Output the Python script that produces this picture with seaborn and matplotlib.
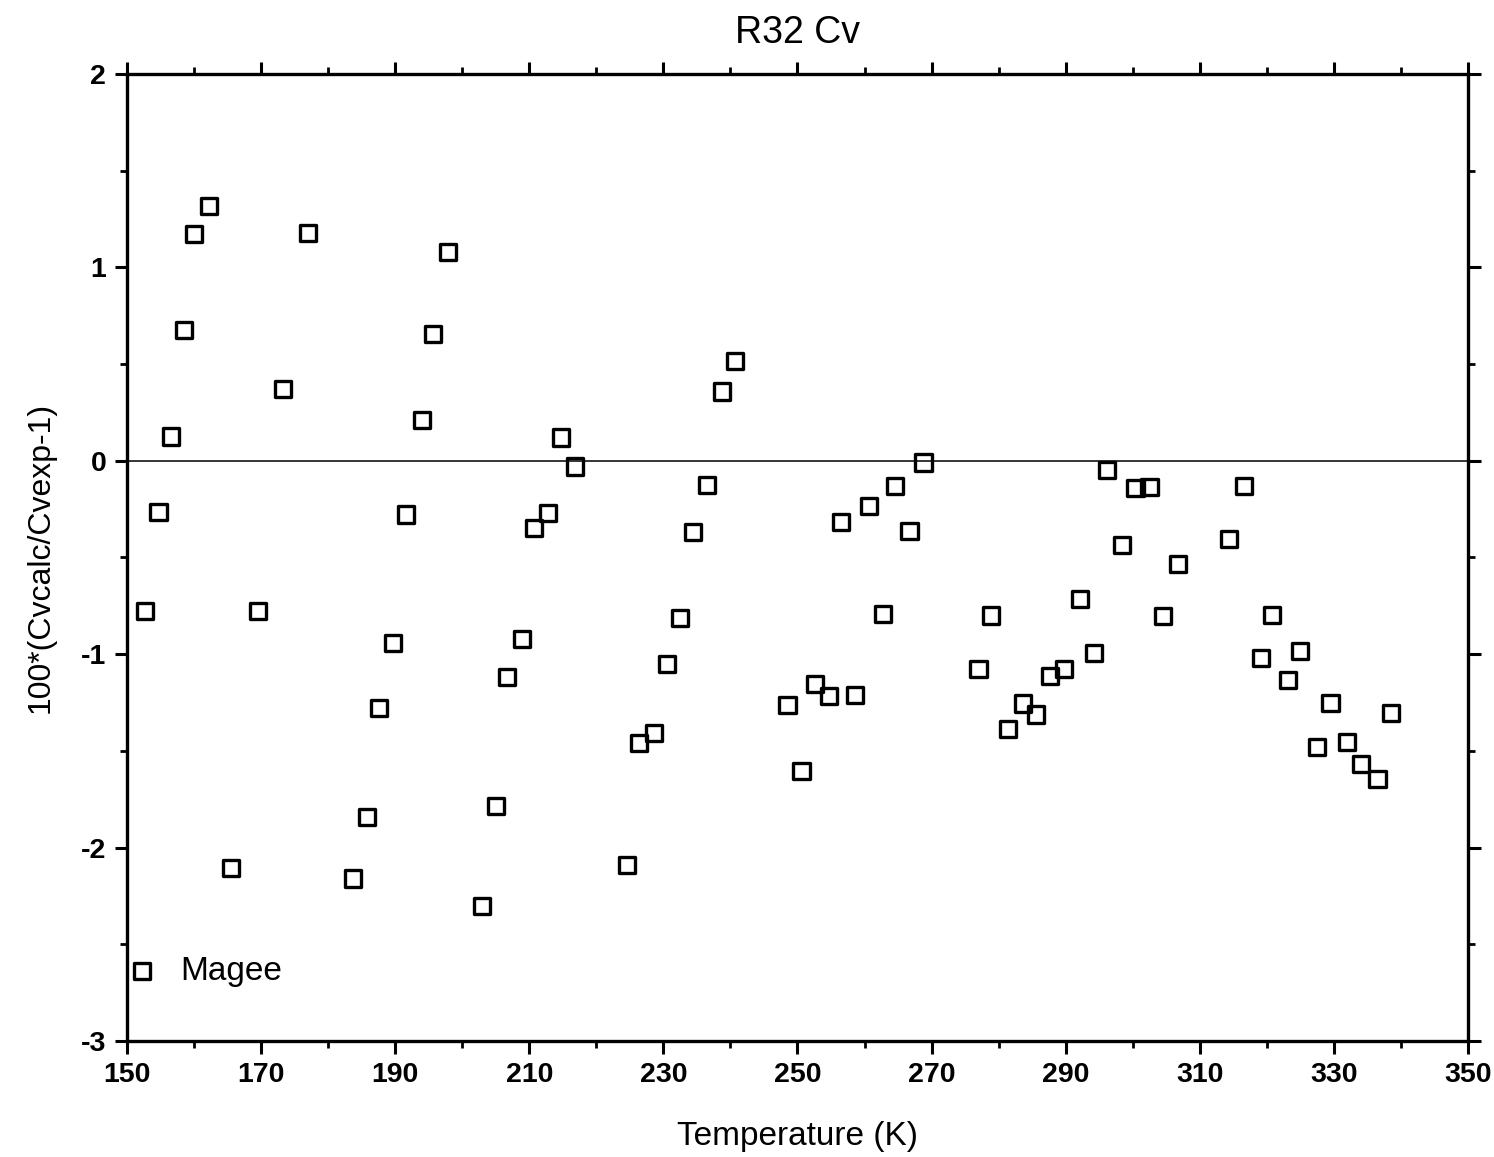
import numpy as np
import pandas as pd
import matplotlib
matplotlib.use("Agg")
import matplotlib.pyplot as plt
import seaborn as sns
from matplotlib.ticker import MultipleLocator

# Deviation of calculated from measured Cv for R32 (Magee data)
temperature = [152.7, 154.7, 156.5, 158.5, 160.0, 162.2, 165.5, 169.5, 173.3, 177.0,
               183.7, 185.8, 187.6, 189.7, 191.6, 194.0, 195.7, 197.9, 203.0, 205.0,
               206.7, 208.9, 210.7, 212.8, 214.7, 216.8, 224.6, 226.4, 228.6, 230.5,
               232.5, 234.4, 236.5, 238.7, 240.7, 248.5, 250.6, 252.6, 254.7, 256.5,
               258.6, 260.7, 262.7, 264.6, 266.7, 268.8, 277.0, 278.9, 281.4, 283.6,
               285.6, 287.6, 289.8, 292.1, 294.2, 296.2, 298.4, 300.4, 302.5, 304.5,
               306.7, 314.3, 316.6, 319.1, 320.8, 323.1, 325.0, 327.5, 329.5, 331.9,
               334.0, 336.5, 338.5]
deviation = [-0.777, -0.264, 0.125, 0.675, 1.173, 1.318, -2.106, -0.779, 0.372, 1.176,
             -2.160, -1.843, -1.278, -0.942, -0.278, 0.210, 0.656, 1.081, -2.301, -1.783,
             -1.119, -0.922, -0.346, -0.268, 0.120, -0.030, -2.090, -1.458, -1.406, -1.053,
             -0.814, -0.368, -0.124, 0.358, 0.514, -1.262, -1.604, -1.153, -1.215, -0.318,
             -1.213, -0.234, -0.793, -0.130, -0.362, -0.009, -1.076, -0.800, -1.385, -1.255,
             -1.312, -1.115, -1.078, -0.716, -0.995, -0.046, -0.434, -0.139, -0.138, -0.801,
             -0.536, -0.406, -0.131, -1.021, -0.799, -1.135, -0.984, -1.481, -1.253, -1.454,
             -1.568, -1.645, -1.303]

x_ticks = [150, 170, 190, 210, 230, 250, 270, 290, 310, 330, 350]
y_ticks = [-3, -2, -1, 0, 1, 2]

df = pd.DataFrame({"T": temperature, "dev": deviation})

sns.set_style("ticks")
plt.rcParams["font.family"] = ["Liberation Sans", "DejaVu Sans"]
plt.rcParams["axes.unicode_minus"] = False
plt.rcParams["text.color"] = "black"
plt.rcParams["axes.labelcolor"] = "black"
plt.rcParams["xtick.color"] = "black"
plt.rcParams["ytick.color"] = "black"

fig = plt.figure(figsize=(14.94, 11.57), dpi=100)
ax = fig.add_axes([0.085, 0.1003, 0.8976, 0.8358])

ax.axhline(0, color="black", lw=1.1, zorder=1)

sns.scatterplot(data=df, x="T", y="dev", ax=ax, marker="s", s=135,
                facecolor="none", edgecolor="black", linewidth=2.4,
                label="Magee", zorder=3)

ax.set_xlim(150, 350)
ax.set_ylim(-3, 2)
ax.set_xticks(x_ticks)
ax.set_yticks(y_ticks)
ax.xaxis.set_minor_locator(MultipleLocator(10))
ax.yaxis.set_minor_locator(MultipleLocator(0.5))

for side in ["top", "right", "bottom", "left"]:
    ax.spines[side].set_visible(True)
    ax.spines[side].set_linewidth(2.4)
    ax.spines[side].set_color("black")

ax.tick_params(which="both", direction="out", top=True, right=True,
               labeltop=False, labelright=False, color="black", labelcolor="black")
ax.tick_params(which="major", length=9, width=2.2, labelsize=20.5, pad=6)
ax.tick_params(which="minor", length=5, width=2.0)
for lab in ax.get_xticklabels() + ax.get_yticklabels():
    lab.set_fontweight("bold")

ax.set_xlabel("Temperature (K)", fontsize=24, labelpad=24, color="black")
ax.set_ylabel("100*(Cvcalc/Cvexp-1)", fontsize=23, labelpad=18, color="black")
ax.set_title("R32 Cv", fontsize=27, pad=22, color="black")

leg = ax.legend(loc="center left", frameon=False, fontsize=24,
                handlelength=0.9, handletextpad=0.7, borderpad=0,
                borderaxespad=0, bbox_to_anchor=(0.0, 0.072))
for h in leg.legend_handles:
    h.set_facecolor("none")
    h.set_edgecolor("black")
for t in leg.get_texts():
    t.set_color("black")

fig.savefig("out.png", dpi=100, facecolor="white")
